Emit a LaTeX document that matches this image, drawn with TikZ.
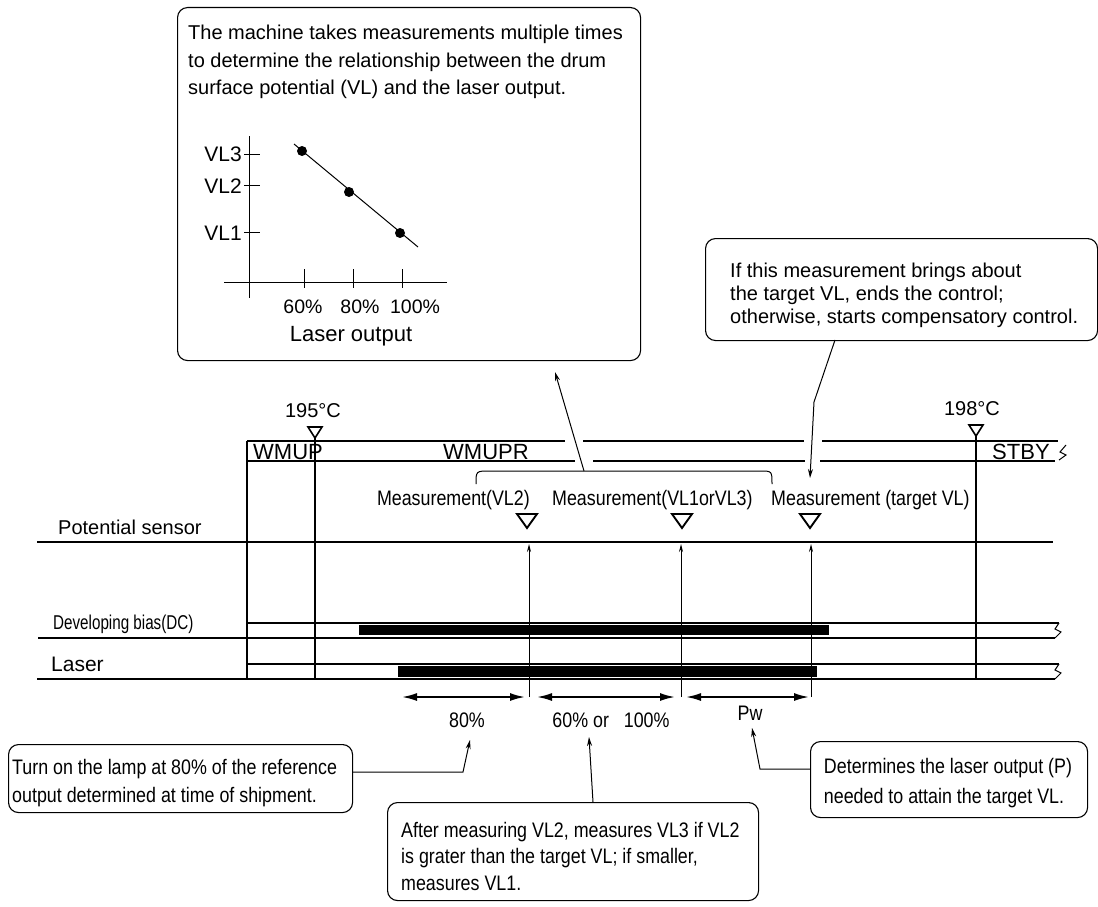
\documentclass[tikz,border=0pt]{standalone}
\usepackage{fontspec}
\setmainfont{Liberation Sans}
\newfontfamily\narrowfont[FakeStretch=0.85]{Liberation Sans}
\newfontfamily\narrowerfont[FakeStretch=0.76]{Liberation Sans}
\usetikzlibrary{arrows.meta}
\begin{document}
\begin{tikzpicture}[x=1pt,y=-1pt,
  box/.style={draw, line width=1.1pt, rounded corners=10pt, inner sep=0pt, anchor=north west},
  txt/.style={inner sep=0pt, anchor=base west, font=\fontsize{20}{24}\selectfont},
  ntxt/.style={inner sep=0pt, anchor=base west, font=\narrowfont\fontsize{21}{25}\selectfont},
  gtxt/.style={inner sep=0pt, anchor=base, font=\fontsize{20}{24}\selectfont},
  tl/.style={line width=1.3pt},
  thinl/.style={line width=1pt},
  meastri/.style={line width=1.9pt, line join=miter},
  temptri/.style={line width=1.6pt, line join=miter},
  lead/.style={line width=1pt, -{Stealth[length=9pt,width=5pt]}},
  marrow/.style={line width=1pt, -{Stealth[length=8pt,width=4pt]}},
  dim/.style={line width=1.8pt, {Latex[length=15pt,width=8pt]}-{Latex[length=15pt,width=8pt]}},
  bar/.style={fill=black}
]
\useasboundingbox (0,0) rectangle (1098,907);

% ---------- top box ----------
\node[box, minimum width=463pt, minimum height=353pt] (topbox) at (177,7) {};
\node[txt] (tb1) at (188,40) {The machine takes measurements multiple times};
\node[txt] (tb2) at (188,68) {to determine the relationship between the drum};
\node[txt] (tb3) at (188,95) {surface potential (VL) and the laser output.};
% graph
\draw[thinl] (249,136) -- (249,298);
\draw[thinl] (224,282) -- (447,282);
\draw[thinl] (244,154) -- (260,154);
\draw[thinl] (244,185) -- (260,185);
\draw[thinl] (244,232) -- (260,232);
\draw[thinl] (304,269) -- (304,288);
\draw[thinl] (353,269) -- (353,288);
\draw[thinl] (402,269) -- (402,288);
\node[gtxt, anchor=base east, font=\fontsize{21}{24}\selectfont] (vl3) at (242,161) {VL3};
\node[gtxt, anchor=base east, font=\fontsize{21}{24}\selectfont] (vl2) at (242,193) {VL2};
\node[gtxt, anchor=base east, font=\fontsize{21}{24}\selectfont] (vl1) at (242,240) {VL1};
\draw[thinl] (294,144) -- (418,247);
\fill (302,151) circle[radius=5pt];
\fill (349,192) circle[radius=5pt];
\fill (400,233) circle[radius=5pt];
\node[gtxt, font=\fontsize{19.5}{24}\selectfont] (p60) at (303,313) {60\%};
\node[gtxt, font=\fontsize{19.5}{24}\selectfont] (p80) at (360,313) {80\%};
\node[gtxt, font=\fontsize{19.5}{24}\selectfont] (p100) at (415,313) {100\%};
\node[gtxt, font=\fontsize{22}{24}\selectfont] (lo) at (351,341) {Laser output};

% ---------- right top box ----------
\node[box, minimum width=392pt, minimum height=102pt] (rbox) at (705,238) {};
\node[txt] (rb1) at (730,277) {If this measurement brings about};
\node[txt] (rb2) at (730,300) {the target VL, ends the control;};
\node[txt] (rb3) at (730,323) {otherwise, starts compensatory control.};

% ---------- timeline header ----------
\node[gtxt] (t195) at (313,417) {195°C};
\node[gtxt] (t198) at (972,415) {198°C};
\draw[temptri] (308,427) -- (322,427) -- (315,438) -- cycle;
\draw[temptri] (969,425) -- (983,425) -- (976,436) -- cycle;
\draw[tl] (247,441) -- (565,441);
\draw[tl] (583,441) -- (804,441);
\draw[tl] (822,441) -- (1058,441);
\draw[tl] (247,461) -- (575,461);
\draw[tl] (593,461) -- (805,461);
\draw[tl] (820,461) -- (1055,461);
\draw[thinl] (1066,445) -- (1060,452) -- (1066,455) -- (1059,460);
\node[txt, font=\fontsize{22}{24}\selectfont] (wmup) at (253,459) {WMUP};
\node[txt, font=\fontsize{22}{24}\selectfont] (wmupr) at (443,459) {WMUPR};
\node[txt, font=\fontsize{22}{24}\selectfont] (stby) at (992,459) {STBY};

% verticals
\draw[tl] (247,441) -- (247,679);
\draw[tl] (315,438) -- (315,679);
\draw[tl] (976,436) -- (976,679);

% brace
\draw[thinl] (476,484) .. controls (476,471) .. (490,471) -- (760,471) .. controls (772,471) .. (772,484);
\coordinate (bracetop) at (584,471);

% measurement labels
\node[ntxt, anchor=base east] (m1) at (530,505) {Measurement(VL2)};
\node[ntxt] (m2) at (552,505) {Measurement(VL1orVL3)};
\node[ntxt] (m3) at (771,505) {Measurement (target VL)};
\draw[meastri] (517,514) -- (537,514) -- (527,528) -- cycle;
\draw[meastri] (672,514) -- (692,514) -- (682,528) -- cycle;
\draw[meastri] (800,514) -- (820,514) -- (810,528) -- cycle;

% rows
\node[txt] (ps) at (58,534) {Potential sensor};
\draw[tl] (37,542) -- (1053,542);
\node[ntxt, font=\narrowerfont\fontsize{20}{22}\selectfont] (db) at (53,629) {Developing bias(DC)};
\draw[tl] (247,623) -- (1059,623);
\draw[tl] (38,638) -- (1055,638);
\draw[thinl] (1059,623) -- (1055,629) -- (1061,632) -- (1055,638);
\fill[bar] (359,625) rectangle (829,635);
\node[txt, font=\fontsize{21}{24}\selectfont] (ls) at (51,671) {Laser};
\draw[tl] (247,664) -- (1059,664);
\draw[tl] (37,679) -- (1055,679);
\draw[thinl] (1059,664) -- (1055,670) -- (1061,673) -- (1055,679);
\fill[bar] (398,666) rectangle (817,677);

% measurement verticals
\coordinate (v1b) at (529,697); \coordinate (v1t) at (529,544);
\coordinate (v2b) at (681,697); \coordinate (v2t) at (681,544);
\coordinate (v3b) at (811,697); \coordinate (v3t) at (811,544);
\draw[marrow] (v1b) -- (v1t);
\draw[marrow] (v2b) -- (v2t);
\draw[marrow] (v3b) -- (v3t);

% dimension arrows
\coordinate (d1a) at (402,697); \coordinate (d1b) at (525,697);
\coordinate (d2a) at (537,697); \coordinate (d2b) at (675,697);
\coordinate (d3a) at (686,697); \coordinate (d3b) at (809,697);
\draw[dim] (d1a) -- (d1b);
\draw[dim] (d2a) -- (d2b);
\draw[dim] (d3a) -- (d3b);
\node[ntxt, anchor=base] (l80) at (467,727) {80\%};
\node[ntxt, anchor=base] (l60) at (611,727) {60\% or \ \ 100\%};
\node[ntxt, anchor=base] (lpw) at (750,720) {Pw};

% ---------- bottom boxes ----------
\node[box, minimum width=344pt, minimum height=68pt] (blbox) at (8,744) {};
\node[ntxt] (bl1) at (12,774) {Turn on the lamp at 80\% of the reference};
\node[ntxt] (bl2) at (12,802) {output determined at time of shipment.};

\node[box, minimum width=371pt, minimum height=98pt] (bmbox) at (387,802) {};
\node[ntxt] (bm1) at (401,837) {After measuring VL2, measures VL3 if VL2};
\node[ntxt] (bm2) at (401,863) {is grater than the target VL; if smaller,};
\node[ntxt] (bm3) at (401,890) {measures VL1.};

\node[box, minimum width=277pt, minimum height=76pt] (brbox) at (810,741) {};
\node[ntxt, anchor=base] (br1) at (948,773) {Determines the laser output (P)};
\node[ntxt, anchor=base] (br2) at (944,803) {needed to attain the target VL.};

% ---------- leaders ----------
\coordinate (topbend) at (555,372);
\draw[lead] (bracetop) -- (topbend);
\coordinate (rstart) at (835,340);
\coordinate (rbend) at (814,402);
\coordinate (rtip) at (810,478);
\draw[lead] (rstart) -- (rbend) -- (rtip);
\coordinate (blstart) at (352,772);
\coordinate (blbend) at (463,772);
\coordinate (bltip) at (470,740);
\draw[lead] (blstart) -- (blbend) -- (bltip);
\coordinate (bmstart) at (593,802);
\coordinate (bmtip) at (589,737);
\draw[lead] (bmstart) -- (bmtip);
\coordinate (brstart) at (810,769);
\coordinate (brbend) at (760,769);
\coordinate (brtip) at (752,728);
\draw[lead] (brstart) -- (brbend) -- (brtip);
\end{tikzpicture}
\end{document}
